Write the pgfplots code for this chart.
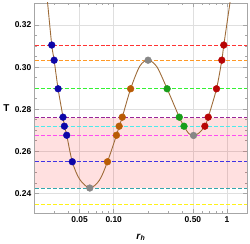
\documentclass[border=0pt]{standalone}
\usepackage{fontspec}
\setmainfont{Liberation Sans}
\usepackage{pgfplots}
\pgfplotsset{compat=1.18}
\definecolor{mblue}{rgb}{0.05,0.02,0.66}
\definecolor{morange}{rgb}{0.72,0.36,0.02}
\definecolor{mgreen}{rgb}{0.1,0.62,0.1}
\definecolor{mred}{rgb}{0.72,0.02,0.02}
\definecolor{mgray}{rgb}{0.53,0.53,0.53}
\definecolor{curve}{rgb}{0.62,0.42,0.22}
\definecolor{lred}{rgb}{1,0.2,0.2}
\definecolor{lorange}{rgb}{1,0.6,0.15}
\definecolor{lgreen}{rgb}{0.2,0.95,0.2}
\definecolor{lpurple}{rgb}{0.6,0.15,0.6}
\definecolor{lcyan}{rgb}{0.3,0.92,0.92}
\definecolor{lmagenta}{rgb}{1,0.3,0.95}
\definecolor{lblue}{rgb}{0.25,0.2,0.9}
\definecolor{lteal}{rgb}{0.2,0.65,0.67}
\definecolor{lyellow}{rgb}{1,0.95,0.1}
\begin{document}
\begin{tikzpicture}
\begin{axis}[
  name=ax,
  scale only axis,
  width=213bp, height=211bp,
  xmode=log,
  xmin=0.0201, xmax=1.5,
  ymin=0.2305, ymax=0.3305,
  xtick={0.05,0.1,0.5,1},
  xticklabels={0.05,0.10,0.50,1},
  minor xtick={0.03,0.04,0.06,0.07,0.08,0.09,0.2,0.3,0.4,0.6,0.7,0.8,0.9},
  ytick={0.24,0.26,0.28,0.30,0.32},
  yticklabels={0.24,0.26,0.28,0.30,0.32},
  minor y tick num=3,
  tick pos=both,
  xticklabel pos=lower, yticklabel pos=left,
  major tick length=4bp, minor tick length=2.2bp,
  tick style={gray!70, line width=0.5pt},
  axis line style={gray!70, line width=0.6pt},
  grid=major,
  major grid style={gray!25, line width=0.6pt},
  /pgf/number format/assume math mode=true,
  ticklabel style={font=\bfseries\fontsize{8.5}{10}\selectfont},
  xlabel={\textbf{\textit{r}\textsubscript{\textit{h}}}},
  ylabel={\textbf{T}},
  label style={font=\fontsize{10}{12}\selectfont},
  ylabel style={rotate=-90, at={(rel axis cs:0,0.5)}, anchor=center, xshift=-28.5bp},
  xlabel style={at={(rel axis cs:0.5,0)}, anchor=center, yshift=-24bp},
]
% shaded region
\addplot[draw=none, fill=red, fill opacity=0.12] coordinates {(0.0201,0.2425) (1.5,0.2425) (1.5,0.276) (0.0201,0.276)} -- cycle;
% dashed lines
\pgfplotsset{hl/.style={line width=1bp, dash pattern=on 4bp off 2bp, mark=none}}
\addplot[hl, draw=lred] coordinates {(0.0201,0.3105) (1.5,0.3105)};
\addplot[hl, draw=lorange] coordinates {(0.0201,0.3033) (1.5,0.3033)};
\addplot[hl, draw=lgreen] coordinates {(0.0201,0.2897) (1.5,0.2897)};
\addplot[hl, draw=lpurple] coordinates {(0.0201,0.2762) (1.5,0.2762)};
\addplot[hl, draw=lcyan] coordinates {(0.0201,0.2719) (1.5,0.2719)};
\addplot[hl, draw=lmagenta] coordinates {(0.0201,0.2676) (1.5,0.2676)};
\addplot[hl, draw=lblue] coordinates {(0.0201,0.2550) (1.5,0.2550)};
\addplot[hl, draw=lteal] coordinates {(0.0201,0.2425) (1.5,0.2425)};
\addplot[hl, draw=lyellow] coordinates {(0.0201,0.2348) (1.5,0.2348)};
% curve
\addplot[draw=curve, line width=0.9pt, smooth, mark=none] coordinates {
(0.0255,0.3360) (0.0261,0.3305) (0.0284,0.3105) (0.0298,0.3033) (0.0323,0.2897)
(0.0357,0.2762) (0.0367,0.2719) (0.0385,0.2676) (0.0431,0.2550) (0.0500,0.2467)
(0.0615,0.2425) (0.0750,0.2463) (0.0881,0.2550) (0.1057,0.2676) (0.1117,0.2719)
(0.1190,0.2762) (0.1410,0.2897) (0.1700,0.3005) (0.2010,0.3033) (0.2400,0.3002)
(0.2960,0.2897) (0.3790,0.2762) (0.4170,0.2719) (0.4600,0.2684) (0.5060,0.2675)
(0.5600,0.2685) (0.6370,0.2719) (0.6820,0.2762) (0.8070,0.2897) (0.8990,0.3033)
(0.9360,0.3105) (1.0600,0.3305) (1.0900,0.3360)};
% markers
\pgfplotsset{mk/.style={only marks, mark=*, mark size=3.4bp}}
\addplot[mk, color=mblue] coordinates {(0.0284,0.3105) (0.0298,0.3033) (0.0323,0.2897) (0.0357,0.2762) (0.0367,0.2719) (0.0385,0.2676) (0.0431,0.2550)};
\addplot[mk, color=morange] coordinates {(0.0881,0.2550) (0.1057,0.2676) (0.1117,0.2719) (0.1190,0.2762) (0.1410,0.2897)};
\addplot[mk, color=mgreen] coordinates {(0.2960,0.2897) (0.3790,0.2762) (0.4170,0.2719)};
\addplot[mk, color=mred] coordinates {(0.6370,0.2719) (0.6820,0.2762) (0.8070,0.2897) (0.8990,0.3033) (0.9360,0.3105)};
\addplot[mk, color=mgray] coordinates {(0.0615,0.2425) (0.2010,0.3033) (0.5060,0.2675)};
\end{axis}
\path[use as bounding box] ([shift={(-34bp,-30bp)}]ax.south west) rectangle ([shift={(216bp,214bp)}]ax.south west);
\end{tikzpicture}
\end{document}
